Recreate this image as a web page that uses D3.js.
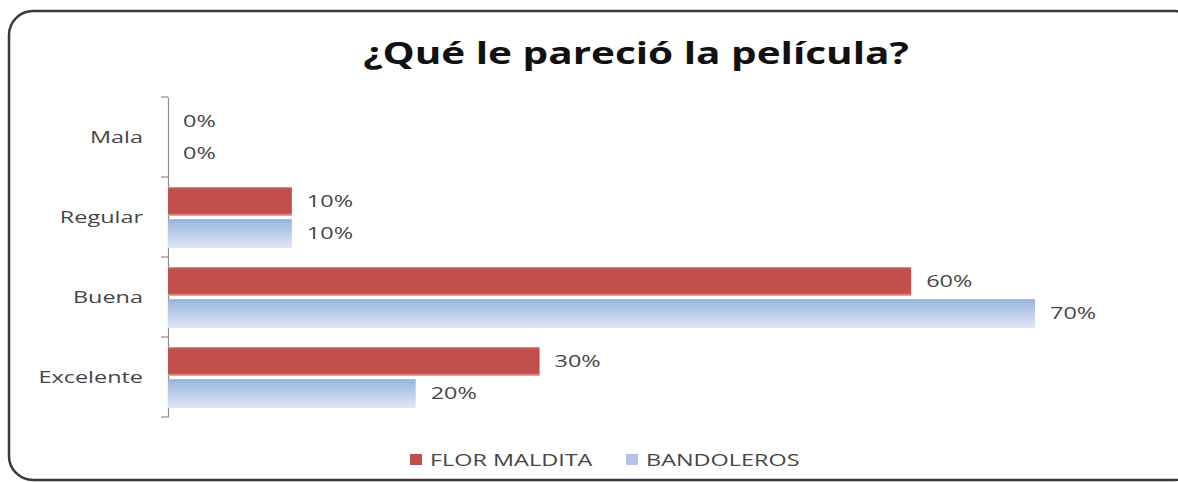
<!DOCTYPE html>
<html>
<head>
<meta charset="utf-8">
<script src="https://cdn.jsdelivr.net/npm/d3@7"></script>
<style>
  html, body { margin: 0; padding: 0; background: #fff; }
  svg { display: block; }
</style>
</head>
<body>
<svg id="chart" width="1178" height="482"></svg>
<script>
// Survey answers, top to bottom
const categories = ["Mala", "Regular", "Buena", "Excelente"];
const seriesNames = ["FLOR MALDITA", "BANDOLEROS"];
const florMaldita = [0, 0.10, 0.60, 0.30];
const bandoleros = [0, 0.10, 0.70, 0.20];
const valueLabels = [["0%", "10%", "60%", "30%"], ["0%", "10%", "70%", "20%"]];

const svg = d3.select("#chart");
const font = "'Open Sans', 'Liberation Sans', sans-serif";
const textStretch = 1.42;   // wide lettering used throughout the chart
const labelSize = 16.5;

// Places a horizontally widened text element at (x, y)
function wideText(parent, x, y, str, opts = {}) {
  const g = parent.append("g")
    .attr("transform", `translate(${x},${y}) scale(${opts.stretch || textStretch},1)`);
  return g.append("text")
    .attr("x", 0).attr("y", 0)
    .attr("dy", opts.dy !== undefined ? opts.dy : "0.35em")
    .attr("text-anchor", opts.anchor || "start")
    .attr("font-family", font)
    .attr("font-size", opts.size || labelSize)
    .attr("font-weight", opts.weight || "normal")
    .attr("fill", opts.fill || "#464646")
    .text(str);
}

const defs = svg.append("defs");
const blueGrad = defs.append("linearGradient")
  .attr("id", "blueGrad").attr("x1", 0).attr("y1", 0).attr("x2", 0).attr("y2", 1);
blueGrad.append("stop").attr("offset", "0%").attr("stop-color", "#97b4dd");
blueGrad.append("stop").attr("offset", "100%").attr("stop-color", "#e2e8f6");
const redGrad = defs.append("linearGradient")
  .attr("id", "redGrad").attr("x1", 0).attr("y1", 0).attr("x2", 0).attr("y2", 1);
redGrad.append("stop").attr("offset", "0%").attr("stop-color", "#e79a98");
redGrad.append("stop").attr("offset", "6%").attr("stop-color", "#c0504d");
redGrad.append("stop").attr("offset", "90%").attr("stop-color", "#c24f4c");
redGrad.append("stop").attr("offset", "100%").attr("stop-color", "#eca6a4");

// Chart frame with rounded corners
svg.append("rect")
  .attr("x", 9).attr("y", 11)
  .attr("width", 1190).attr("height", 469)
  .attr("rx", 24).attr("ry", 24)
  .attr("fill", "#fff")
  .attr("stroke", "#3a3a3a")
  .attr("stroke-width", 2.5);

// Title
wideText(svg, 636, 64, "¿Qué le pareció la película?", {
  anchor: "middle", size: 30, weight: "bold", fill: "#111", dy: 0, stretch: 1.35
});

// Scales
const x = d3.scaleLinear().domain([0, 0.7]).range([168, 1035]);
const y = d3.scaleBand().domain(categories).range([97, 417]).paddingInner(0).paddingOuter(0);
const ySub = d3.scaleBand().domain(seriesNames).range([10, y.bandwidth() - 9]).paddingInner(0.1);

// Category axis line
const yAxis = d3.axisLeft(y).tickSize(0).tickFormat("");
const gAxis = svg.append("g").attr("transform", "translate(168,0)").call(yAxis);
gAxis.select(".domain").attr("stroke", "#8c8c8c").attr("stroke-width", 1.2);

// Category labels
const gCats = svg.append("g");
categories.forEach(c => {
  wideText(gCats, 143, y(c) + y.bandwidth() / 2, c, { anchor: "end" });
});

// Tick marks at band boundaries
const boundaries = categories.map(c => y(c)).concat([y.range()[1]]);
svg.append("g").selectAll("line").data(boundaries).join("line")
  .attr("x1", 161).attr("x2", 168)
  .attr("y1", d => d).attr("y2", d => d)
  .attr("stroke", "#8c8c8c").attr("stroke-width", 1.2);

const series = [
  { name: seriesNames[0], values: florMaldita, fill: "url(#redGrad)", swatch: "#c0504d" },
  { name: seriesNames[1], values: bandoleros, fill: "url(#blueGrad)", swatch: "#b6c2e6" }
];

series.forEach((s, si) => {
  const g = svg.append("g");
  g.selectAll("rect").data(s.values).join("rect")
    .attr("x", x(0))
    .attr("y", (d, i) => y(categories[i]) + ySub(s.name))
    .attr("width", d => x(d) - x(0))
    .attr("height", ySub.bandwidth())
    .attr("fill", s.fill);
  s.values.forEach((d, i) => {
    wideText(g, x(d) + 15, y(categories[i]) + ySub(s.name) + ySub.bandwidth() / 2, valueLabels[si][i]);
  });
});

// Legend
const legend = svg.append("g");
const legendX = [410, 626];
series.forEach((s, i) => {
  legend.append("rect")
    .attr("x", legendX[i]).attr("y", 454)
    .attr("width", 12).attr("height", 11)
    .attr("fill", s.swatch);
  wideText(legend, legendX[i] + 20, 460, s.name);
});
</script>
</body>
</html>
